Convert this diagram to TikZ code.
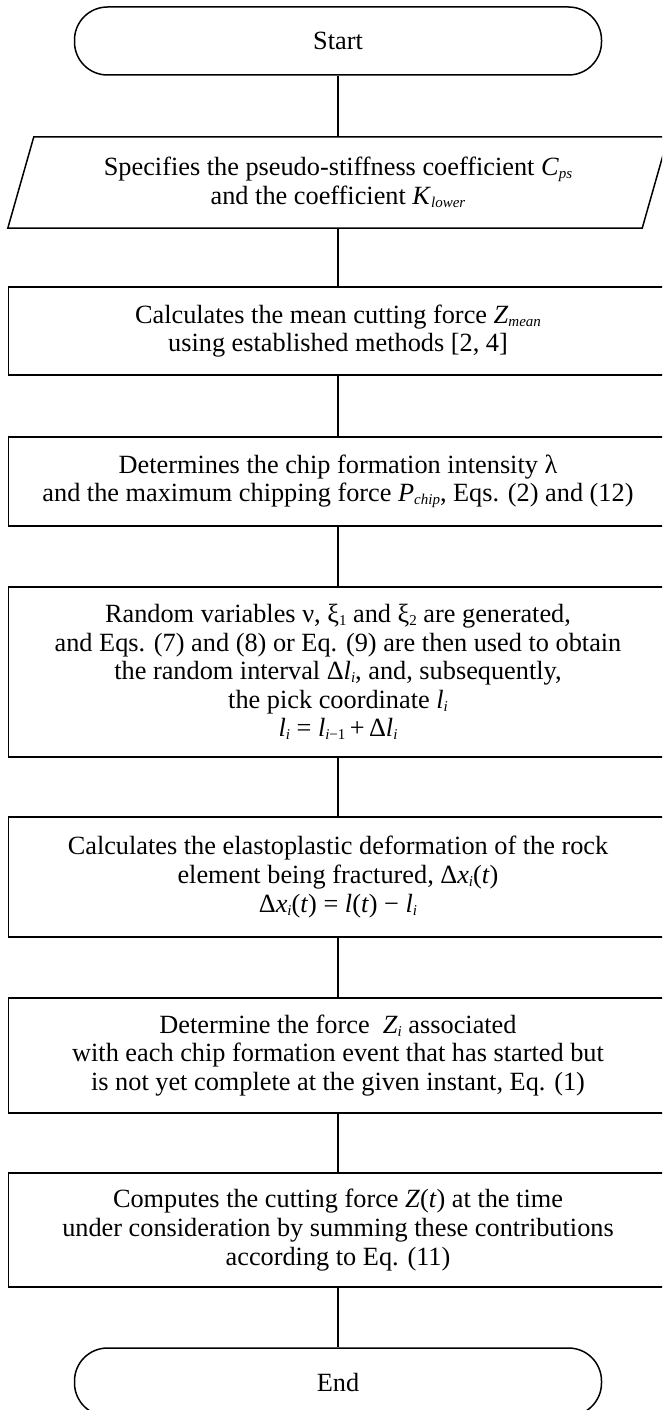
\documentclass[tikz,border=0pt]{standalone}
\usepackage{fontspec}
\setmainfont{Liberation Serif}
\usetikzlibrary{calc}
\newcommand\fs{\fontsize{26.3}{28.6}\selectfont}
\newcommand\usub[1]{\raisebox{-3pt}{\fontsize{15}{15}\selectfont #1}}
\newcommand\isub[1]{\usub{\textit{#1}}}
\tikzset{
  every node/.style={font=\fs, align=center, inner sep=0pt},
  box/.style={draw, line width=1.5pt, minimum width=659pt},
  pbox/.style={minimum width=660pt},
  term/.style={draw, line width=1.5pt, rounded corners=33pt, minimum width=527pt, minimum height=68pt},
  conn/.style={line width=1.5pt}
}
\begin{document}
\begin{tikzpicture}[x=1pt,y=1pt]
\useasboundingbox (0,0) rectangle (662,-1410);
\clip (0,0) rectangle (662,-1410);
\node[term] (start) at (338,-41) {Start};
\node[pbox, minimum height=91pt] (para) at (338,-182.5) {Specifies the pseudo-stiffness coefficient \textit{C}\isub{ps}\\ and the coefficient \textit{K}\isub{lower}};
\draw[line width=1.5pt] (para.south west) -- ($(para.north west)+(26,0)$) -- (para.north east) -- ($(para.south east)+(-26,0)$) -- cycle;
\node[box, minimum height=88pt] (b1) at (338,-331) {Calculates the mean cutting force \textit{Z}\isub{mean}\\ using established methods [2, 4]};
\node[box, minimum height=89pt] (b2) at (338,-481.5) {Determines the chip formation intensity λ\\ and the maximum chipping force \textit{P}\isub{chip}, Eqs. (2) and (12)};
\node[box, minimum height=170pt] (b3) at (338,-672) {Random variables ν, ξ\usub{1} and ξ\usub{2} are generated,\\ and Eqs. (7) and (8) or Eq. (9) are then used to obtain\\ the random interval Δ\textit{l}\isub{i}, and, subsequently,\\ the pick coordinate \textit{l}\isub{i}\\ \textit{l}\isub{i} = \textit{l}\usub{\textit{i}−1}\,+\,Δ\textit{l}\isub{i}};
\node[box, minimum height=120pt] (b4) at (338,-877) {Calculates the elastoplastic deformation of the rock\\ element being fractured, Δ\textit{x}\isub{i}(\textit{t})\\ Δ\textit{x}\isub{i}(\textit{t}) = \textit{l}(\textit{t}) − \textit{l}\isub{i}};
\node[box, minimum height=115pt] (b5) at (338,-1055.5) {Determine the force~ \textit{Z}\isub{i} associated\\ with each chip formation event that has started but\\ is not yet complete at the given instant, Eq. (1)};
\node[box, minimum height=114pt] (b6) at (338,-1230) {Computes the cutting force \textit{Z}(\textit{t}) at the time\\ under consideration by summing these contributions\\ according to Eq. (11)};
\node[term] (end) at (338,-1382) {End};
\draw[conn] (start) -- (para);
\draw[conn] (para) -- (b1);
\draw[conn] (b1) -- (b2);
\draw[conn] (b2) -- (b3);
\draw[conn] (b3) -- (b4);
\draw[conn] (b4) -- (b5);
\draw[conn] (b5) -- (b6);
\draw[conn] (b6) -- (end);
\end{tikzpicture}
\end{document}
